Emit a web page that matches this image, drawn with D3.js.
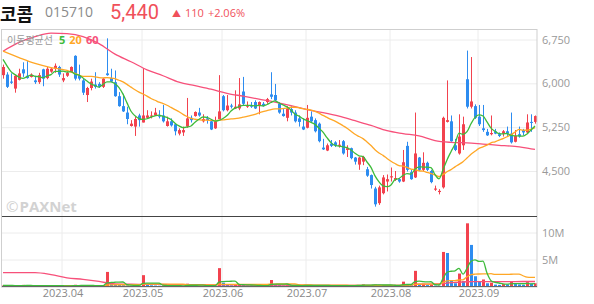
<!DOCTYPE html>
<html>
<head>
<meta charset="utf-8">
<script src="https://cdn.jsdelivr.net/npm/d3@7"></script>
<style>
  html, body { margin: 0; padding: 0; background: #fff; }
  svg { display: block; }
  text { font-family: "Open Sans", "Noto Sans CJK KR", sans-serif; }
  .kr { font-family: "Noto Sans CJK KR", "Noto Sans", sans-serif; }
</style>
</head>
<body>
<div id="chart"></div>
<script>
// 코콤 (015710) daily candles, 2023-03-10 .. 2023-09-20
var opens = [
  6140,6150,6030,5910,6060,6240,6130,6110,6050,6020,6240,6090,6200,6250,6280,6050,6130,6190,6470,6140,
  6050,5800,5920,5980,5990,5940,6170,6090,6020,5780,5610,5500,5270,5260,5450,5330,5410,5430,5450,5450,
  5450,5270,5350,5300,5140,5160,5260,5410,5440,5500,5350,5400,5350,5230,5390,5780,5540,5620,5570,5570,
  5860,5600,5620,5680,5610,5650,5680,5810,5800,5650,5480,5410,5560,5500,5400,5260,5240,5430,5370,5310,
  4900,4850,4970,4990,4930,5010,4860,4890,4730,4610,4660,4530,4430,4200,3950,4120,4320,4390,4350,4360,
  4320,4930,4480,4390,4730,4520,4640,4500,4180,4140,4220,5340,5350,4940,4800,4940,6070,5600,5610,5430,
  5230,5170,5130,5180,5130,5140,5180,5140,5000,5130,5200,5160,5340,5340
];
var highs = [
  6320,6190,6170,6140,6250,6360,6380,6170,6130,6180,6250,6280,6260,6340,6300,6170,6200,6290,6480,6320,
  6080,5940,6080,6190,6020,6090,6770,6250,6220,5850,5820,5600,5370,5430,5480,6260,5540,5520,5580,5540,
  5630,5430,5400,5310,5230,5260,5750,5450,5520,5580,5470,5440,5370,5430,6140,5800,5800,5650,5880,6090,
  6110,5690,5680,5710,5690,5680,5750,6190,5990,5680,5570,5610,5610,5540,5450,5400,5630,5520,5400,5330,
  5050,4970,5030,5010,5030,5030,4940,4900,4740,4740,4760,4570,4440,4230,4250,4430,4440,4560,4500,4380,
  4860,5000,4520,5500,4740,4820,4660,4520,4250,4190,5430,6050,5450,5050,5470,5430,6560,6450,5640,5630,
  5630,5220,5450,5220,5160,5200,5260,5500,5200,5260,5220,5470,5470,5450
];
var lows = [
  6080,5920,5990,5840,6050,6110,6080,6100,5990,5990,5950,6070,6180,6180,6110,6020,6110,6180,6050,6050,
  5800,5680,5880,5910,5920,5920,6130,6020,5770,5600,5510,5300,5260,5100,5260,5330,5400,5400,5440,5400,
  5330,5260,5260,5110,5110,5100,5240,5330,5430,5430,5330,5310,5200,5220,5390,5520,5520,5570,5560,5540,
  5620,5580,5580,5560,5470,5600,5650,5730,5690,5480,5430,5350,5450,5330,5260,5200,5230,5330,5160,4990,
  4860,4840,4910,4910,4900,4780,4740,4700,4610,4520,4600,4400,4200,3890,3920,4100,4150,4320,4330,4300,
  4310,4490,4350,4380,4500,4500,4500,4290,4160,4100,4200,5330,5000,4840,4780,4860,5570,5570,5390,5270,
  5170,5100,5110,5130,5080,5090,5100,4970,4990,5070,5110,5140,5170,5310
];
var closes = [
  6280,5940,6010,6130,6170,6170,6090,6150,6020,6140,6080,6250,6250,6300,6150,6090,6180,6280,6080,6080,
  5840,5920,6030,5940,5940,6080,6140,6030,5780,5610,5520,5390,5310,5390,5370,5450,5450,5450,5500,5430,
  5350,5350,5280,5180,5200,5200,5400,5370,5510,5450,5390,5370,5210,5350,5520,5540,5620,5600,5600,5640,
  5650,5620,5600,5570,5680,5610,5730,5770,5710,5500,5440,5570,5500,5350,5340,5210,5410,5350,5180,5010,
  4870,4940,4930,4940,4950,4800,4890,4720,4660,4730,4740,4420,4260,3930,4220,4390,4360,4410,4380,4320,
  4650,4520,4360,4800,4520,4640,4520,4310,4200,4160,5410,5370,5010,4860,5090,5300,5600,5690,5410,5300,
  5200,5110,5150,5140,5100,5180,5140,4990,5100,5090,5160,5330,5330,5440
];
// thousand shares
var volumes = [
  180,150,120,160,140,300,200,110,130,150,170,190,120,140,130,110,100,150,320,210,
  180,160,130,150,110,170,2700,600,350,280,240,200,150,230,170,2100,450,220,180,150,
  190,140,120,160,130,110,520,230,180,150,130,120,160,140,3400,700,380,220,300,420,
  350,180,150,170,200,130,160,1200,450,260,180,230,160,190,150,170,260,180,200,240,
  190,150,120,110,130,210,160,180,200,240,380,220,260,350,300,280,200,240,150,130,
  900,450,230,2900,420,520,260,300,180,150,6400,6200,1200,600,2400,1000,11700,7700,1900,900,
  1300,600,700,350,300,450,400,1000,450,380,300,800,550,600
];

var ma5Head = [6410, 6300, 6200, 6150];
var ma20Head = [6550, 6440, 6340, 6270, 6220];      // every 4th candle
var ma60Read = [6550,6700,6800,6860,6850,6800,6680,6500,6370,6230,6130,6020,5960,5900,5830,5780,5730,5680,
  5620,5550,5500,5440,5360,5280,5190,5140,5100,5020,4990,4980,4960,4940,4920,4880,4870]; // every 4th candle
var volMa5Head = [200, 200, 190, 180];
var volMa20Head = [150, 150, 150, 150, 160];
var volMa60Read = [2560,2560,2560,2200,1600,1330,950,460,420,400,380,350,330,310,300,280,260,250,240,230,
  220,210,200,200,200,220,450,460,700,880,900,910,920,930,930];
var readStep = 4;

var monthLabels = ["2023.04", "2023.05", "2023.06", "2023.07", "2023.08", "2023.09"];
var monthFirstIndex = [15, 35, 55, 76, 97, 119];
var priceTicks = [4500, 5250, 6000, 6750];
var volumeTicks = [5000, 10000];

(function () {
    "use strict";

    var UP = "#f2424e", DOWN = "#2d8cf0";
    var C5 = "#3dbb3a", C20 = "#ffa726", C60 = "#f7507a";

    var W = 594, H = 304;
    var left = 2, right = 537, plotTop = 30, split = 216.5, bottom = 287;
    var n = closes.length;

    var svg = d3.select("#chart").append("svg").attr("width", W).attr("height", H);

    var x = d3.scaleBand().domain(d3.range(n)).range([1, right]).padding(0);
    var xc = function (i) { return x(i) + x.bandwidth() / 2; };
    var yPrice = d3.scaleLinear().domain([4500, 6750]).range([171, 39.5]);
    var yVol = d3.scaleLinear().domain([0, 10000]).range([286.5, 232.5]);

    function movingAvg(vals, len, head) {
        var pts = [];
        head.forEach(function (v, k) {
            var i = head.length === len - 1 ? k : k * readStep;
            pts.push({i: i, v: v});
        });
        for (var i = len - 1; i < n; i++) {
            pts.push({i: i, v: d3.mean(vals.slice(i - len + 1, i + 1))});
        }
        return pts;
    }
    function sampled(vals) {
        return vals.map(function (v, k) { return {i: Math.min(k * readStep, n - 1), v: v}; });
    }

    // grid + axes
    var gx = svg.append("g").attr("transform", "translate(0," + bottom + ")")
        .call(d3.axisBottom(x).tickValues(monthFirstIndex)
            .tickFormat(function (d, k) { return monthLabels[k]; })
            .tickSizeInner(-(bottom - plotTop)).tickSizeOuter(0).tickPadding(2));
    gx.select(".domain").remove();
    gx.selectAll("line").attr("stroke", "#ececec").attr("transform", "translate(-1,0)");
    gx.selectAll("text").attr("fill", "#8a8a8a").style("font-size", "11px");

    var gy = svg.append("g").attr("transform", "translate(" + right + ",0)")
        .call(d3.axisRight(yPrice).tickValues(priceTicks).tickFormat(d3.format(","))
            .tickSizeInner(-(right - left)).tickSizeOuter(0).tickPadding(5));
    gy.select(".domain").remove();
    gy.selectAll("line").attr("stroke", "#ececec");
    gy.selectAll("text").attr("fill", "#999").style("font-size", "11px");

    var gv = svg.append("g").attr("transform", "translate(" + right + ",0)")
        .call(d3.axisRight(yVol).tickValues(volumeTicks).tickFormat(function (d) { return d / 1000 + "M"; })
            .tickSizeInner(-(right - left)).tickSizeOuter(0).tickPadding(5));
    gv.select(".domain").remove();
    gv.selectAll("line").attr("stroke", "#ececec");
    gv.selectAll("text").attr("fill", "#999").style("font-size", "11px");

    // watermark
    var wm = svg.append("text").attr("x", 6).attr("y", 211.5).attr("fill", "#d2d2d2")
        .style("font-weight", "bold");
    wm.append("tspan").style("font-size", "15px").style("font-weight", "normal").text("©");
    wm.append("tspan").style("font-size", "15px").attr("dx", 1).text("PAXNet");

    svg.append("clipPath").attr("id", "clipP").append("rect")
        .attr("x", left).attr("y", plotTop).attr("width", right - left).attr("height", split - plotTop);
    svg.append("clipPath").attr("id", "clipV").append("rect")
        .attr("x", left).attr("y", split).attr("width", right - left).attr("height", bottom - split);

    // candles
    var gPrice = svg.append("g").attr("clip-path", "url(#clipP)");
    var candle = gPrice.selectAll("g.candle").data(d3.range(n)).join("g").attr("class", "candle");
    candle.append("line")
        .attr("x1", function (i) { return x(i) + 2.5; }).attr("x2", function (i) { return x(i) + 2.5; })
        .attr("y1", function (i) { return yPrice(highs[i]); }).attr("y2", function (i) { return yPrice(lows[i]); })
        .attr("stroke", function (i) { return closes[i] >= opens[i] ? UP : DOWN; });
    candle.append("rect")
        .attr("x", function (i) { return x(i) + 1; }).attr("width", 3)
        .attr("y", function (i) { return yPrice(Math.max(opens[i], closes[i])); })
        .attr("height", function (i) { return Math.max(1, Math.abs(yPrice(opens[i]) - yPrice(closes[i]))); })
        .attr("fill", function (i) { return closes[i] >= opens[i] ? UP : DOWN; });

    var lineP = d3.line().x(function (d) { return xc(d.i); }).y(function (d) { return yPrice(d.v); })
        .curve(d3.curveMonotoneX);
    [[sampled(ma60Read), C60], [movingAvg(closes, 20, ma20Head), C20], [movingAvg(closes, 5, ma5Head), C5]]
        .forEach(function (s) {
            gPrice.append("path").datum(s[0]).attr("d", lineP).attr("fill", "none")
                .attr("stroke", s[1]).attr("stroke-width", 1.3);
        });

    // volume
    var gVol = svg.append("g").attr("clip-path", "url(#clipV)");
    gVol.selectAll("rect").data(d3.range(n)).join("rect")
        .attr("x", function (i) { return x(i) + 1; }).attr("width", 3)
        .attr("y", function (i) { return yVol(volumes[i]); })
        .attr("height", function (i) { return yVol(0) - yVol(volumes[i]); })
        .attr("fill", function (i) { return i === 0 || volumes[i] >= volumes[i - 1] ? UP : DOWN; });

    var lineV = d3.line().x(function (d) { return xc(d.i); }).y(function (d) { return yVol(d.v); })
        .curve(d3.curveMonotoneX);
    [[sampled(volMa60Read), C60], [movingAvg(volumes, 20, volMa20Head), C20], [movingAvg(volumes, 5, volMa5Head), C5]]
        .forEach(function (s) {
            gVol.append("path").datum(s[0]).attr("d", lineV).attr("fill", "none")
                .attr("stroke", s[1]).attr("stroke-width", 1.3);
        });

    // frame
    svg.append("rect").attr("x", left - 0.5).attr("y", plotTop - 0.5).attr("width", right - left + 0.5)
        .attr("height", bottom - plotTop + 0.5).attr("fill", "none").attr("stroke", "#cfcfcf");
    svg.append("line").attr("x1", left).attr("x2", right).attr("y1", split).attr("y2", split)
        .attr("stroke", "#444");
    svg.append("line").attr("x1", left).attr("x2", right).attr("y1", bottom - 0.5).attr("y2", bottom - 0.5)
        .attr("stroke", "#666");

    // legend
    var lg = svg.append("text").attr("x", 7).attr("y", 44).style("font-size", "11px");
    lg.append("tspan").attr("class", "kr").attr("fill", "#9a9a9a").style("font-size", "10px").text("이동평균선");
    lg.append("tspan").attr("dx", 6).attr("fill", C5).style("font-weight", "bold").text("5");
    lg.append("tspan").attr("dx", 4).attr("fill", C20).style("font-weight", "bold").text("20");
    lg.append("tspan").attr("dx", 4).attr("fill", C60).style("font-weight", "bold").text("60");

    // title
    var last = closes[n - 1], prev = closes[n - 2];
    svg.append("text").attr("class", "kr").attr("x", 0).attr("y", 21)
        .style("font-size", "18px").style("font-weight", "bold").attr("fill", "#111").text("코콤");
    svg.append("text").attr("x", 45).attr("y", 17).style("font-size", "14px").attr("fill", "#8a8a8a").text("015710");
    svg.append("text").attr("x", 110).attr("y", 19).style("font-size", "20px").attr("fill", "#f0505a")
        .style("font-family", "Roboto, sans-serif").text(d3.format(",")(last));
    var chg = svg.append("text").attr("x", 172).attr("y", 16.5).style("font-size", "11px").attr("fill", "#f0505a");
    chg.append("tspan").style("font-size", "9px").text("▲");
    chg.append("tspan").attr("dx", 4).text(d3.format(",")(last - prev));
    chg.append("tspan").attr("dx", 4).text("+" + d3.format(".2f")((last - prev) / prev * 100) + "%");
}());
</script>
</body>
</html>
